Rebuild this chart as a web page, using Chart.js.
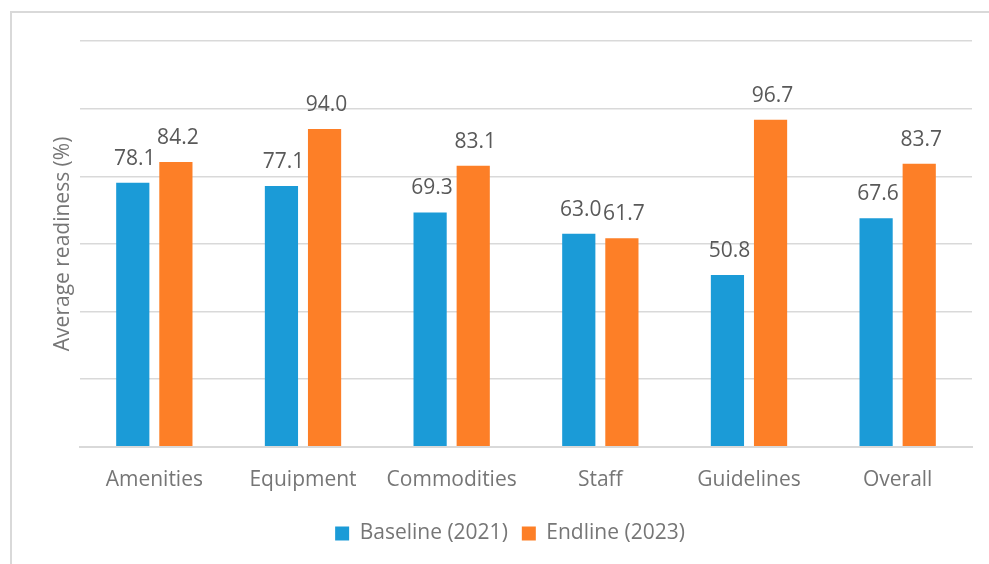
<!DOCTYPE html>
<html>
<head>
<meta charset="utf-8">
<script src="https://cdn.jsdelivr.net/npm/chart.js@4"></script>
<style>
  html, body { margin: 0; padding: 0; background: #fff; overflow: hidden; }
  #frame { position: absolute; left: 10px; top: 11px; width: 1000px; height: 600px; border: 2px solid #d9d9d9; box-sizing: border-box; }
  #wrap { position: absolute; left: 0; top: 0; width: 989px; height: 564px; }
</style>
</head>
<body>
<div id="frame"></div>
<div id="wrap"><canvas id="grafico" width="989" height="564"></canvas></div>
<script>
// Categorias e valores
const categorias = ["Amenities", "Equipment", "Commodities", "Staff", "Guidelines", "Overall"];
const baseline2021 = [78.1, 77.1, 69.3, 63.0, 50.8, 67.6];
const endline2023 = [84.2, 94.0, 83.1, 61.7, 96.7, 83.7];
const ticksY = [0, 20, 40, 60, 80, 100, 120];

const corTexto = "#767676";
const corRotulo = "#595959";
const fonte = "'Open Sans', 'Noto Sans', sans-serif";

// Rótulos de valor acima das barras
const rotulos = {
	id: "rotulos",
	afterDatasetsDraw(chart) {
		const c = chart.ctx;
		c.save();
		c.fillStyle = corRotulo;
		c.font = "21px " + fonte;
		c.textAlign = "center";
		c.textBaseline = "alphabetic";
		chart.data.datasets.forEach((ds, i) => {
			chart.getDatasetMeta(i).data.forEach((bar, j) => {
				c.fillText(ds.data[j].toFixed(1), bar.x + 2, bar.y - 18);
			});
		});
		c.restore();
	},
};

// Deslocar a legenda um pouco para a direita, como no original
const moverLegenda = {
	id: "moverLegenda",
	afterLayout(chart) {
		chart.legend.left += 24;
		chart.legend.right += 24;
	},
};

new Chart(document.getElementById("grafico"), {
	type: "bar",
	data: {
		labels: categorias,
		datasets: [
			{ label: "Baseline (2021)", data: baseline2021, backgroundColor: "#1b9bd7" },
			{ label: "Endline (2023)", data: endline2023, backgroundColor: "#fd7f27" },
		],
	},
	options: {
		responsive: false,
		animation: false,
		categoryPercentage: 0.58,
		barPercentage: 0.77,
		layout: { padding: { top: 41, right: 17, left: 0, bottom: 10 } },
		plugins: {
			legend: {
				position: "bottom",
				labels: {
					color: corTexto,
					font: { family: fonte, size: 21 },
					boxWidth: 14,
					boxHeight: 14,
					padding: 14,
				},
			},
			tooltip: { enabled: false },
		},
		scales: {
			x: {
				grid: { display: false },
				border: { color: "#d9d9d9", width: 2 },
				ticks: { color: corTexto, font: { family: fonte, size: 21 }, padding: 13 },
				afterFit: (s) => { s.height += 3; },
			},
			y: {
				min: 0,
				max: 120,
				afterBuildTicks: (s) => { s.ticks = ticksY.map((v) => ({ value: v })); },
				afterFit: (s) => { s.width = 80; },
				ticks: { display: false },
				grid: { color: "#d9d9d9", lineWidth: 1.5, drawTicks: false },
				border: { display: false },
				title: {
					display: true,
					text: "Average readiness (%)",
					color: corTexto,
					font: { family: fonte, size: 21 },
					padding: { top: 50, bottom: 0 },
				},
			},
		},
	},
	plugins: [rotulos, moverLegenda],
});
</script>
</body>
</html>
